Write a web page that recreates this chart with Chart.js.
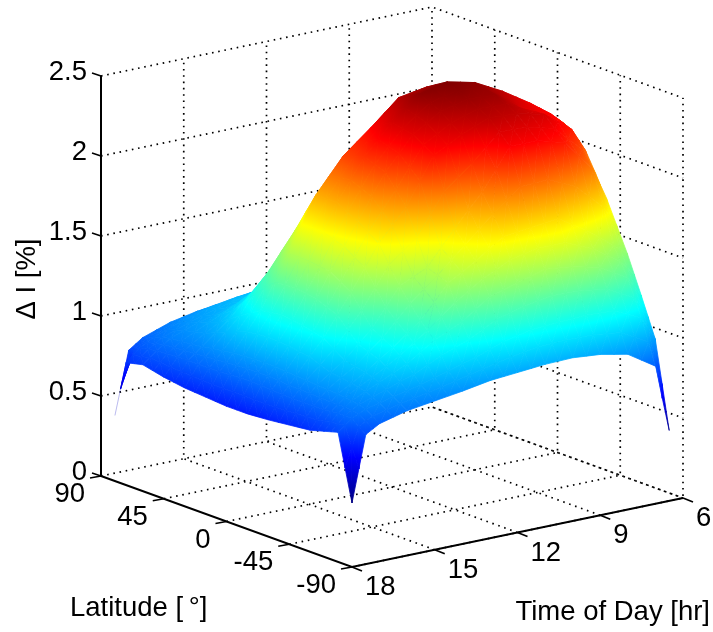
<!DOCTYPE html>
<html>
<head>
<meta charset="utf-8">
<title>Delta I surface</title>
<script src="https://cdn.jsdelivr.net/npm/chart.js@4/dist/chart.umd.min.js"></script>
<style>
  html, body { margin: 0; padding: 0; background: #fff; }
  #chart { display: block; }
</style>
</head>
<body>
<canvas id="chart" width="713" height="632"></canvas>
<script>
// axis ticks
var zTicks = [0, 0.5, 1, 1.5, 2, 2.5];
var latTicks = [90, 45, 0, -45, -90];
var hourTicks = [18, 15, 12, 9, 6];

// sample positions of the surface
var hours = [18, 17.5, 17, 16, 15, 14, 13, 12, 11, 10, 9, 8, 7, 6.5];
var lats = [80, 72, 60, 45, 30, 15, 0, -15, -30, -45, -60, -70, -80, -90];

// delta I per latitude, one value per entry of hours
var latN80 = [0.41, 0.80, 0.86, 0.92, 0.955, 0.98, 1.00, 1.03, 1.05, 1.05, 1.03, 0.95, 0.85, 0.45];
var latN72 = [0.765, 0.84, 0.89, 0.95, 1.00, 1.03, 1.05, 1.15, 1.20, 1.22, 1.20, 1.15, 1.05, 0.95];
var latN60 = [0.79, 0.86, 0.92, 0.98, 1.03, 1.08, 1.15, 1.30, 1.40, 1.45, 1.45, 1.40, 1.35, 1.30];
var latN45 = [0.76, 0.87, 0.93, 1.03, 1.14, 1.27, 1.42, 1.60, 1.75, 1.85, 1.85, 1.80, 1.78, 1.75];
var latN30 = [0.74, 0.87, 0.95, 1.12, 1.35, 1.58, 1.80, 1.97, 2.09, 2.20, 2.20, 2.10, 2.02, 2.00];
var latN15 = [0.73, 0.87, 0.97, 1.20, 1.52, 1.85, 2.06, 2.20, 2.35, 2.38, 2.35, 2.25, 2.15, 2.10];
var lat0 = [0.72, 0.88, 0.98, 1.22, 1.52, 1.85, 2.10, 2.28, 2.42, 2.46, 2.42, 2.33, 2.22, 2.15];
var latS15 = [0.72, 0.88, 0.98, 1.20, 1.50, 1.78, 2.05, 2.25, 2.36, 2.40, 2.39, 2.27, 2.20, 2.12];
var latS30 = [0.73, 0.87, 0.97, 1.17, 1.42, 1.69, 1.88, 2.17, 2.26, 2.33, 2.32, 2.28, 2.15, 2.00];
var latS45 = [0.745, 0.87, 0.96, 1.08, 1.24, 1.47, 1.55, 1.76, 1.95, 2.20, 2.20, 2.15, 1.95, 1.75];
var latS60 = [0.76, 0.87, 0.95, 1.05, 1.17, 1.30, 1.50, 1.60, 1.72, 1.74, 1.76, 1.65, 1.52, 1.45];
var latS70 = [0.785, 0.88, 0.94, 1.02, 1.10, 1.21, 1.29, 1.41, 1.46, 1.51, 1.49, 1.45, 1.35, 1.22];
var latS80 = [0.81, 0.88, 0.92, 0.96, 1.00, 1.05, 1.10, 1.16, 1.20, 1.21, 1.22, 1.21, 1.13, 0.98];
var latS90 = [0.40, 0.81, 0.86, 0.905, 0.93, 0.955, 0.985, 1.00, 1.015, 1.02, 1.005, 0.97, 0.86, 0.44];
var surface = [latN80, latN72, latN60, latN45, latN30, latN15, lat0, latS15, latS30, latS45, latS60, latS70, latS80, latS90];

var colorMin = 0.41, colorMax = 2.45;
var jetKnots = [0.125, 0.375, 0.625, 0.875];

var canvas = document.getElementById('chart');
var gradCtx = canvas.getContext('2d');

// fixed view of the box, orthographic
function project(lat, hour, z) {
  var u = (18 - hour) / 12;
  var v = (90 - lat) / 180;
  return {
    x: 101 + 331 * u + 251 * v,
    y: 476 - 69 * u + 91 * v - 160 * z
  };
}

function jet(z) {
  var t = (z - colorMin) / (colorMax - colorMin);
  t = Math.max(0, Math.min(1, t));
  var r = Math.max(0, Math.min(1, Math.min(4 * t - 1.5, 4.5 - 4 * t)));
  var g = Math.max(0, Math.min(1, Math.min(4 * t - 0.5, 3.5 - 4 * t)));
  var b = Math.max(0, Math.min(1, Math.min(4 * t + 0.5, 2.5 - 4 * t)));
  return 'rgb(' + Math.round(r * 255) + ',' + Math.round(g * 255) + ',' + Math.round(b * 255) + ')';
}

// z is linear over a triangle so a linear gradient shades it exactly
function triPaint(a, b, c) {
  var flat = jet((a.z + b.z + c.z) / 3);
  var d = (b.p.x - a.p.x) * (c.p.y - a.p.y) - (c.p.x - a.p.x) * (b.p.y - a.p.y);
  var lo = Math.min(a.z, b.z, c.z), hi = Math.max(a.z, b.z, c.z);
  if (Math.abs(d) < 0.5 || hi - lo < 0.0005) return flat;
  var gx = ((b.z - a.z) * (c.p.y - a.p.y) - (c.z - a.z) * (b.p.y - a.p.y)) / d;
  var gy = ((b.p.x - a.p.x) * (c.z - a.z) - (c.p.x - a.p.x) * (b.z - a.z)) / d;
  var g2 = gx * gx + gy * gy;
  if (g2 < 1e-9) return flat;
  var grad = gradCtx.createLinearGradient(
    a.p.x + (lo - a.z) * gx / g2, a.p.y + (lo - a.z) * gy / g2,
    a.p.x + (hi - a.z) * gx / g2, a.p.y + (hi - a.z) * gy / g2
  );
  grad.addColorStop(0, jet(lo));
  jetKnots.forEach(function (k) {
    var zk = colorMin + k * (colorMax - colorMin);
    if (zk > lo && zk < hi) grad.addColorStop((zk - lo) / (hi - lo), jet(zk));
  });
  grad.addColorStop(1, jet(hi));
  return grad;
}

// almost edge-on triangles only get a hairline
function isSliver(a, b, c) {
  var d = Math.abs((b.p.x - a.p.x) * (c.p.y - a.p.y) - (c.p.x - a.p.x) * (b.p.y - a.p.y));
  var e1 = Math.pow(b.p.x - a.p.x, 2) + Math.pow(b.p.y - a.p.y, 2);
  var e2 = Math.pow(c.p.x - b.p.x, 2) + Math.pow(c.p.y - b.p.y, 2);
  var e3 = Math.pow(a.p.x - c.p.x, 2) + Math.pow(a.p.y - c.p.y, 2);
  return d / Math.max(e1, e2, e3) < 0.03;
}

function lineSet(points, width, dash, color) {
  return {
    data: points,
    showLine: true,
    fill: false,
    borderColor: color || '#000',
    borderWidth: width,
    borderDash: dash || [],
    pointRadius: 0,
    clip: false
  };
}

function triSet(a, b, c) {
  var paint = triPaint(a, b, c);
  return {
    data: [a.p, b.p, c.p, a.p],
    showLine: true,
    fill: 'shape',
    backgroundColor: paint,
    borderColor: paint,
    borderWidth: isSliver(a, b, c) ? 0.15 : 0.8,
    pointRadius: 0,
    clip: false
  };
}

function cellFacets(i, j, out) {
  var split = 2;
  var latA = lats[i], latB = lats[i + 1], hA = hours[j], hB = hours[j + 1];
  var a = surface[i][j], b = surface[i][j + 1], c = surface[i + 1][j], d = surface[i + 1][j + 1];
  function at(s, t) {
    var z = a * (1 - s) * (1 - t) + b * (1 - s) * t + c * s * (1 - t) + d * s * t;
    return { p: project(latA + (latB - latA) * s, hA + (hB - hA) * t, z), z: z };
  }
  for (var si = 0; si < split; si++) {
    for (var ti = split - 1; ti >= 0; ti--) {
      var p00 = at(si / split, ti / split);
      var p01 = at(si / split, (ti + 1) / split);
      var p11 = at((si + 1) / split, (ti + 1) / split);
      var p10 = at((si + 1) / split, ti / split);
      out.push(triSet(p00, p01, p10));
      out.push(triSet(p01, p11, p10));
    }
  }
}

function buildDatasets() {
  var list = [];
  var dots = [1.6, 4.7];
  var zTop = zTicks[zTicks.length - 1];

  // dotted walls and floor
  zTicks.forEach(function (z) {
    list.push(lineSet([project(90, 18, z), project(90, 6, z), project(-90, 6, z)], 1.7, dots));
  });
  hourTicks.forEach(function (h) {
    if (h !== 18) list.push(lineSet([project(-90, h, 0), project(90, h, 0), project(90, h, zTop)], 1.7, dots));
  });
  latTicks.forEach(function (lat) {
    if (lat !== 90) list.push(lineSet([project(lat, 18, 0), project(lat, 6, 0), project(lat, 6, zTop)], 1.7, dots));
  });

  // surface from the far corner to the near one
  for (var i = 0; i < lats.length - 1; i++) {
    for (var j = hours.length - 2; j >= 0; j--) {
      cellFacets(i, j, list);
    }
  }

  // solid axes and ticks
  list.push(lineSet([project(90, 18, zTop), project(90, 18, 0), project(-90, 18, 0), project(-90, 6, 0)], 2));
  zTicks.forEach(function (z) {
    var p = project(90, 18, z);
    list.push(lineSet([p, { x: p.x - 9, y: p.y - 3 }], 1.6));
  });
  latTicks.forEach(function (lat) {
    var p = project(lat, 18, 0);
    list.push(lineSet([p, { x: p.x - 11, y: p.y + 2 }], 1.6));
  });
  hourTicks.forEach(function (h) {
    var p = project(-90, h, 0);
    list.push(lineSet([p, { x: p.x + 10, y: p.y + 4 }], 1.6));
  });

  // chart.js paints the first dataset last
  return list.reverse();
}

var labelsPlugin = {
  id: 'labels3d',
  afterDraw: function (chart) {
    var ctx = chart.ctx;
    var sx = chart.scales.x, sy = chart.scales.y;
    ctx.save();
    ctx.fillStyle = '#000';
    ctx.font = '27.5px "Liberation Sans"';
    ctx.textBaseline = 'middle';
    function put(text, x, y, align) {
      ctx.textAlign = align;
      ctx.fillText(text, sx.getPixelForValue(x), sy.getPixelForValue(y));
    }
    zTicks.forEach(function (z) {
      var p = project(90, 18, z);
      put(String(z), p.x - 14, p.y - 4, 'right');
    });
    latTicks.forEach(function (lat) {
      var p = project(lat, 18, 0);
      put(String(lat), p.x - 16, p.y + 18.5, 'right');
    });
    hourTicks.forEach(function (h) {
      var p = project(-90, h, 0);
      put(String(h), p.x + 13, p.y + 20.5, 'left');
    });
    put('Latitude [\u2009\u00b0]', 70, 608, 'left');
    put('Time of Day [hr]', 710, 612, 'right');
    ctx.translate(sx.getPixelForValue(27), sy.getPixelForValue(279));
    ctx.rotate(-Math.PI / 2);
    ctx.textAlign = 'center';
    ctx.fillText('\u0394 I [%]', 0, 0);
    ctx.restore();
  }
};

new Chart(canvas, {
  type: 'scatter',
  data: { datasets: buildDatasets() },
  options: {
    responsive: false,
    animation: false,
    events: [],
    layout: { padding: 0 },
    plugins: {
      legend: { display: false },
      tooltip: { enabled: false },
      title: { display: false }
    },
    scales: {
      x: { type: 'linear', min: 0, max: 713, display: false },
      y: { type: 'linear', min: 0, max: 632, reverse: true, display: false }
    }
  },
  plugins: [labelsPlugin]
});
</script>
</body>
</html>
